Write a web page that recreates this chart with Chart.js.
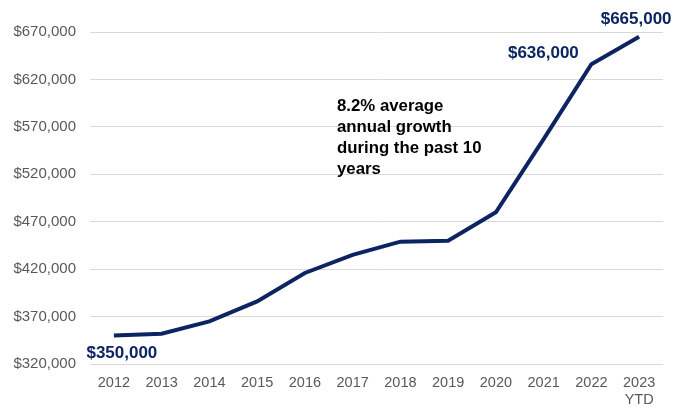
<!DOCTYPE html>
<html>
<head>
<meta charset="utf-8">
<script src="https://cdn.jsdelivr.net/npm/chart.js@4/dist/chart.umd.min.js"></script>
<style>
  html, body { margin: 0; padding: 0; background: #ffffff; }
  #wrap { width: 685px; height: 407px; position: relative; }
</style>
</head>
<body>
<div id="wrap"><canvas id="chart"></canvas></div>
<script>
// Median home price by year
const years = ['2012', '2013', '2014', '2015', '2016', '2017', '2018', '2019', '2020', '2021', '2022', ['2023', 'YTD']];
const prices = [350000, 352000, 365000, 386000, 416000, 435000, 449000, 450000, 480000, 557000, 636000, 665000];
const yTicks = [320000, 370000, 420000, 470000, 520000, 570000, 620000, 670000];
const labelledYears = [0, 10, 11];
const noteLines = ['8.2% average', 'annual growth', 'during the past 10', 'years'];

const NAVY = '#0c2461';
const FONT = '"Liberation Sans", Arial, sans-serif';
const fmt = v => '$' + v.toLocaleString('en-US');

// value labels next to selected points
const valueLabels = {
  id: 'valueLabels',
  afterDatasetsDraw(chart) {
    const ctx = chart.ctx;
    const pts = chart.getDatasetMeta(0).data;
    const offsets = { 0: [8, 18], 10: [-48, -11], 11: [-3, -17] };
    ctx.save();
    ctx.font = 'bold 17px ' + FONT;
    ctx.fillStyle = NAVY;
    ctx.textAlign = 'center';
    ctx.textBaseline = 'middle';
    labelledYears.forEach(i => {
      const p = pts[i];
      const [dx, dy] = offsets[i];
      ctx.fillText(fmt(prices[i]), p.x + dx, p.y + dy);
    });
    ctx.restore();
  }
};

// growth note inside the plot
const growthNote = {
  id: 'growthNote',
  afterDraw(chart) {
    const ctx = chart.ctx;
    ctx.save();
    ctx.font = 'bold 16.8px ' + FONT;
    ctx.fillStyle = '#000000';
    ctx.textAlign = 'left';
    ctx.textBaseline = 'middle';
    noteLines.forEach((t, k) => ctx.fillText(t, 337, 106 + k * 21));
    ctx.restore();
  }
};

new Chart(document.getElementById('chart'), {
  type: 'line',
  data: {
    labels: years,
    datasets: [{
      data: prices,
      borderColor: NAVY,
      borderWidth: 4,
      pointRadius: 0,
      tension: 0,
      fill: false
    }]
  },
  options: {
    responsive: true,
    maintainAspectRatio: false,
    animation: false,
    layout: { padding: { top: 32, right: 22, left: 0, bottom: 0 } },
    plugins: { legend: { display: false }, tooltip: { enabled: false } },
    scales: {
      x: {
        offset: true,
        grid: { display: false, drawTicks: false },
        border: { display: false },
        ticks: {
          color: '#595959',
          font: { family: FONT, size: 14.5 },
          padding: 10,
          maxRotation: 0,
          autoSkip: false
        },
        afterFit(scale) { scale.height = 43; }
      },
      y: {
        min: 320000,
        max: 670000,
        afterBuildTicks(scale) { scale.ticks = yTicks.map(v => ({ value: v })); },
        grid: { color: '#d9d9d9', lineWidth: 1, drawTicks: false },
        border: { display: false },
        ticks: {
          color: '#595959',
          font: { family: FONT, size: 15 },
          padding: 14,
          callback: v => fmt(v)
        },
        afterFit(scale) { scale.width = 90; }
      }
    }
  },
  plugins: [valueLabels, growthNote]
});
</script>
</body>
</html>
